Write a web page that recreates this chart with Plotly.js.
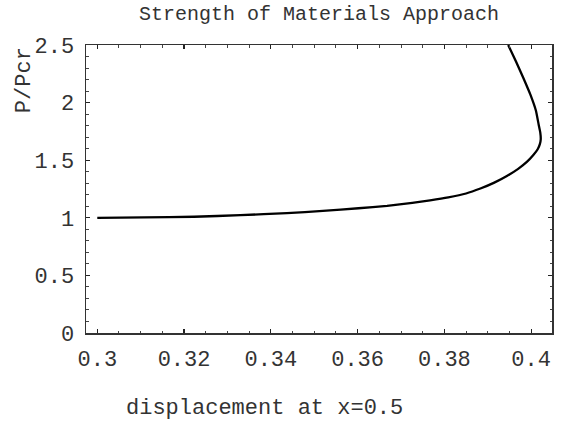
<!DOCTYPE html>
<html>
<head>
<meta charset="utf-8">
<script src="https://cdn.plot.ly/plotly-3.0.1.min.js"></script>
<style>html,body{margin:0;padding:0;background:#fff;}#chart{width:564px;height:425px;}</style>
</head>
<body>
<div id="chart"></div>
<script>
// Data
const displacement = [0.3000, 0.3108, 0.3223, 0.3330, 0.3437, 0.3520, 0.3602, 0.3668, 0.3726, 0.3767, 0.3809, 0.3850, 0.3883, 0.3915, 0.3945, 0.3970, 0.3990, 0.4005, 0.4015, 0.4020, 0.4022, 0.4021, 0.4017, 0.4011, 0.3998, 0.3982, 0.3965, 0.3947];
const loadRatio    = [1.000, 1.003, 1.009, 1.023, 1.040, 1.060, 1.083, 1.103, 1.129, 1.151, 1.177, 1.211, 1.254, 1.305, 1.365, 1.425, 1.485, 1.545, 1.595, 1.640, 1.680, 1.740, 1.814, 1.929, 2.071, 2.214, 2.357, 2.500];
const titleText = "Strength of Materials Approach";
const xTitleText = "displacement at x=0.5";
const yTitleText = "P/Pcr";

const FONT = "'Liberation Mono', 'Courier New', monospace";

const trace = {
  x: displacement,
  y: loadRatio,
  type: 'scatter',
  mode: 'lines',
  line: {color: '#000', width: 2.3, shape: 'spline', smoothing: 0.4},
  hoverinfo: 'skip'
};

const axisCommon = {
  showgrid: false,
  zeroline: false,
  showline: true,
  linecolor: '#333',
  linewidth: 1.5,
  mirror: 'allticks',
  ticks: 'inside',
  ticklen: 4,
  tickwidth: 1.2,
  tickcolor: '#222',
  tickfont: {family: FONT, size: 22, color: '#333'},
  fixedrange: true
};

const layout = {
  width: 564,
  height: 425,
  margin: {l: 86, r: 12, t: 45, b: 92},
  paper_bgcolor: '#fff',
  plot_bgcolor: '#fff',
  showlegend: false,
  title: {text: titleText, font: {family: FONT, size: 20, color: '#333'}, x: 0.5, xref: 'paper', y: 1, yref: 'container', yanchor: 'top', pad: {t: 6}},
  xaxis: Object.assign({}, axisCommon, {
    range: [0.2974, 0.4048],
    tick0: 0.3, dtick: 0.02,
    ticklabelstandoff: 5,
    minor: {dtick: 0.005, ticks: 'inside', ticklen: 2.5, tickwidth: 1, tickcolor: '#444'}
  }),
  yaxis: Object.assign({}, axisCommon, {
    range: [0, 2.5],
    tick0: 0, dtick: 0.5,
    ticklabelstandoff: 6,
    minor: {dtick: 0.1, ticks: 'inside', ticklen: 2.5, tickwidth: 1, tickcolor: '#444'}
  }),
  annotations: [
    {text: yTitleText, textangle: -90, xref: 'paper', yref: 'paper', x: -0.133, y: 0.878, xanchor: 'center', yanchor: 'middle', showarrow: false, font: {family: FONT, size: 22, color: '#333'}},
    {text: xTitleText, xref: 'paper', yref: 'paper', x: 0.384, y: -0.262, xanchor: 'center', yanchor: 'middle', showarrow: false, font: {family: FONT, size: 22, color: '#333'}}
  ]
};

Plotly.newPlot('chart', [trace], layout, {displayModeBar: false, staticPlot: true});
</script>
</body>
</html>
